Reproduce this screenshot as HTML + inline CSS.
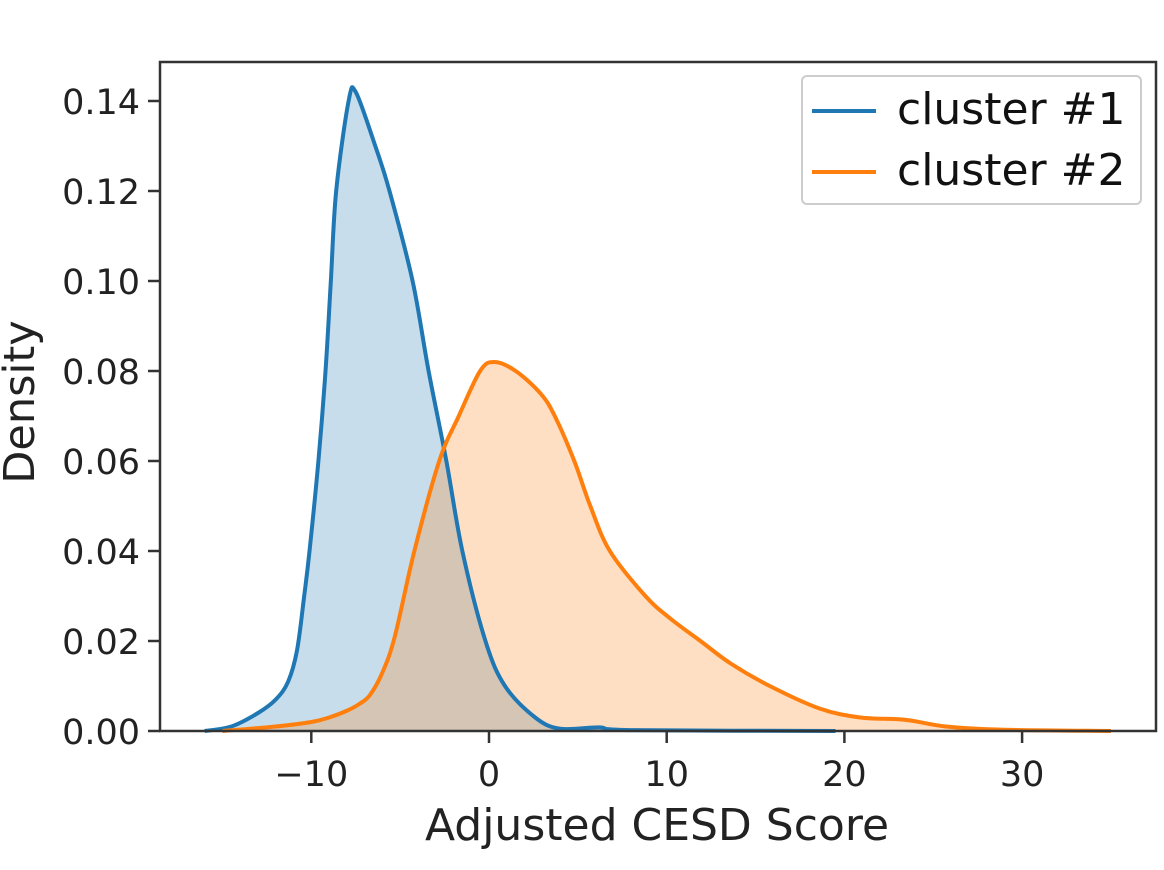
<!DOCTYPE html>
<html><head><meta charset="utf-8"><style>
body{margin:0;background:#fff}
svg{display:block;font-family:"DejaVu Sans","Liberation Sans",sans-serif}
</style></head><body>
<svg id="chart" width="1164" height="870" viewBox="0 0 1164 870">
<g id="plot"></g>
<rect x="160" y="62" width="996" height="669" fill="none" stroke="#333" stroke-width="2.5"/>
<g id="ticks"></g>
<text x="657" y="840" font-size="44" text-anchor="middle" fill="#222">Adjusted CESD Score</text>
<text transform="translate(34,402) rotate(-90)" font-size="43" text-anchor="middle" fill="#222">Density</text>
<g>
<rect x="802" y="76" width="339" height="128" rx="5" fill="#fff" fill-opacity="0.9" stroke="#ccc" stroke-width="2"/>
<line x1="812" y1="111" x2="876" y2="111" stroke="#1f77b4" stroke-width="4"/>
<text x="897" y="124" font-size="44" fill="#111">cluster #1</text>
<line x1="812" y1="172" x2="876" y2="172" stroke="#ff7f0e" stroke-width="4"/>
<text x="897" y="185" font-size="44" fill="#111">cluster #2</text>
</g>
</svg>
<script>
const cluster1X=[-16,-14.5,-13,-12,-11.3,-10.8,-10.4,-10.1,-9.6,-9.2,-8.9,-8.6,-7.9,-7.5,-6.4,-5.6,-4.3,-3.4,-2.4,-1.5,-0.2,0.9,2.6,4,6.2,8,19.5];
const cluster1Y=[0,0.001,0.004,0.007,0.011,0.018,0.03,0.04,0.06,0.08,0.10,0.12,0.14,0.142,0.13,0.12,0.10,0.08,0.06,0.04,0.02,0.01,0.003,0.0005,0.0008,0.0002,0];
const cluster2X=[-15,-12,-10,-9,-8,-7.3,-6.7,-6,-5.3,-4.2,-2.8,-1.7,-0.5,0.3,1.5,2.9,3.7,4.8,5.7,6.8,8.8,10.2,11.9,13.6,15.8,18.6,20.9,23.4,25.7,28.8,35];
const cluster2Y=[0,0.001,0.002,0.003,0.0045,0.006,0.008,0.013,0.021,0.04,0.06,0.07,0.08,0.082,0.08,0.075,0.07,0.06,0.05,0.04,0.03,0.025,0.02,0.015,0.01,0.005,0.003,0.0025,0.001,0.0003,0];
const xTicks=[-10,0,10,20,30];
const yTicks=[0,0.02,0.04,0.06,0.08,0.10,0.12,0.14];
const xTickLabels=["\u221210","0","10","20","30"];
const yTickLabels=["0.00","0.02","0.04","0.06","0.08","0.10","0.12","0.14"];
const NS="http://www.w3.org/2000/svg";
const sx=v=>489+v*17.77;
const sy=v=>731-v*4500;
function mk(tag,attrs,parent){const e=document.createElementNS(NS,tag);for(const k in attrs)e.setAttribute(k,attrs[k]);parent.appendChild(e);return e;}
function smooth(xs,ys){const p=xs.map((x,i)=>[sx(x),sy(ys[i])]);let d="M"+p[0][0]+","+p[0][1];
for(let i=0;i<p.length-1;i++){const p0=p[i-1]||p[i],p1=p[i],p2=p[i+1],p3=p[i+2]||p2;
const c1=[p1[0]+(p2[0]-p0[0])/6,p1[1]+(p2[1]-p0[1])/6],c2=[p2[0]-(p3[0]-p1[0])/6,p2[1]-(p3[1]-p1[1])/6];
d+=` C${c1[0]},${Math.min(c1[1],731)} ${c2[0]},${Math.min(c2[1],731)} ${p2[0]},${p2[1]}`;}return d;}
const plot=document.getElementById("plot");
const series=[[cluster1X,cluster1Y,"#1f77b4","cluster-1"],[cluster2X,cluster2Y,"#ff7f0e","cluster-2"]];
const paths=series.map(([xs,ys])=>smooth(xs,ys));
series.forEach(([xs,ys,c,n],i)=>{
const f=mk("path",{d:paths[i]+` L${sx(xs[xs.length-1])},731 L${sx(xs[0])},731 Z`,fill:c,"fill-opacity":"0.25",stroke:"none"},plot);

});
series.forEach(([xs,ys,c,n],i)=>{
const l=mk("path",{d:paths[i],fill:"none",stroke:c,"stroke-width":"4","stroke-linejoin":"round"},plot);

});
const tg=document.getElementById("ticks");
xTicks.forEach((v,i)=>{const t=mk("line",{x1:sx(v),x2:sx(v),y1:731,y2:743,stroke:"#333","stroke-width":"2.5"},tg);


const tx=mk("text",{x:sx(v),y:786,"font-size":"35","text-anchor":"middle",fill:"#222"},tg);tx.textContent=xTickLabels[i];

});
yTicks.forEach((v,i)=>{const t=mk("line",{x1:148,x2:160,y1:sy(v),y2:sy(v),stroke:"#333","stroke-width":"2.5"},tg);


const tx=mk("text",{x:140,y:sy(v)+13,"font-size":"35","text-anchor":"end",fill:"#222"},tg);tx.textContent=yTickLabels[i];

});
</script>
</body></html>
